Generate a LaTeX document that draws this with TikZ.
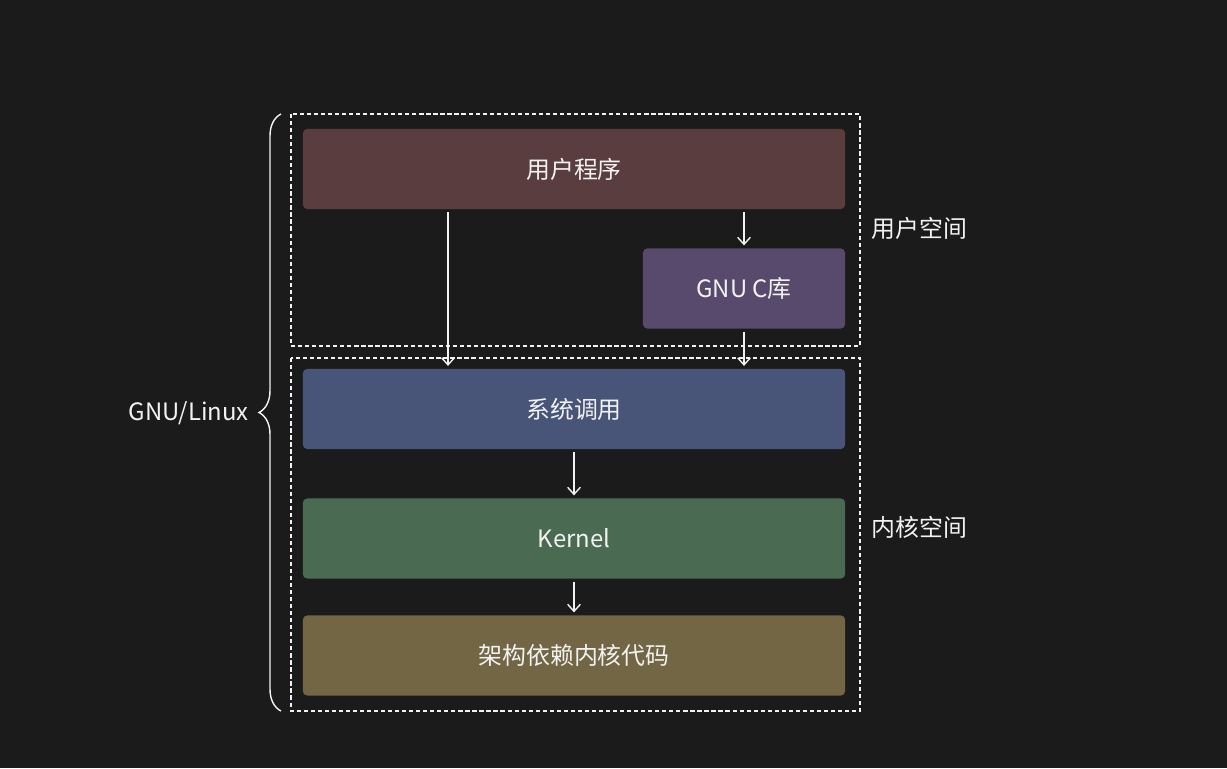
\documentclass[tikz,border=0pt]{standalone}
\usepackage{fontspec}
\setmainfont{Noto Sans CJK SC}
\usetikzlibrary{decorations.pathreplacing,arrows.meta}
\definecolor{bg}{HTML}{1B1B1B}
\definecolor{fg}{HTML}{F2F2F2}
\definecolor{progred}{HTML}{5A3E3F}
\definecolor{libpurple}{HTML}{574A6C}
\definecolor{callblue}{HTML}{495479}
\definecolor{kerngreen}{HTML}{4A6A51}
\definecolor{archbrown}{HTML}{726644}

\begin{document}
\begin{tikzpicture}[x=0.025cm,y=-0.025cm,
    layer/.style={rounded corners=3pt, text=fg, font=\fontsize{17}{20}\selectfont,
        minimum height=2cm, minimum width=13.55cm, inner sep=0pt},
    zone/.style={draw=fg, dash pattern=on 3pt off 2pt, line width=1pt},
    arr/.style={-{Straight Barb[length=5pt, width=9pt]}, draw=fg, line width=1pt,
        shorten <=2pt, shorten >=2pt},
    tag/.style={text=fg, font=\fontsize{17}{20}\selectfont, inner sep=0pt}]
    % Fundo
    \fill[bg] (0,0) rectangle (1227,768);
    % Zonas tracejadas
    \draw[zone] (291,114) rectangle (860,346);
    \draw[zone] (291,358) rectangle (860,711);
    % Camadas
    \node[layer, fill=progred] (prog) at (574,169) {用户程序};
    \node[layer, fill=libpurple, minimum width=5.05cm] (glibc) at (744,288.5) {GNU C库};
    \node[layer, fill=callblue] (sys) at (574,409) {系统调用};
    \node[layer, fill=kerngreen] (kern) at (574,538.5) {Kernel};
    \node[layer, fill=archbrown] (arch) at (574,655.5) {架构依赖内核代码};
    % Setas
    \coordinate (a) at (448,0);
    \draw[arr] (prog.south -| a) -- (sys.north -| a);
    \draw[arr] (prog.south -| glibc) -- (glibc.north);
    \draw[arr] (glibc.south) -- (sys.north -| glibc);
    \foreach \u/\v in {sys/kern, kern/arch}
        \draw[arr] (\u.south) -- (\v.north);
    % Chave e rótulos
    \draw[fg, line width=1pt, decorate, decoration={brace, amplitude=0.55cm}]
        (281,711) -- (281,114);
    \node[tag, anchor=east] (gnu) at (249,413) {GNU/Linux};
    \node[tag, anchor=west] (uspace) at (871,228) {用户空间};
    \node[tag, anchor=west] (kspace) at (871,527) {内核空间};
\end{tikzpicture}
\end{document}
